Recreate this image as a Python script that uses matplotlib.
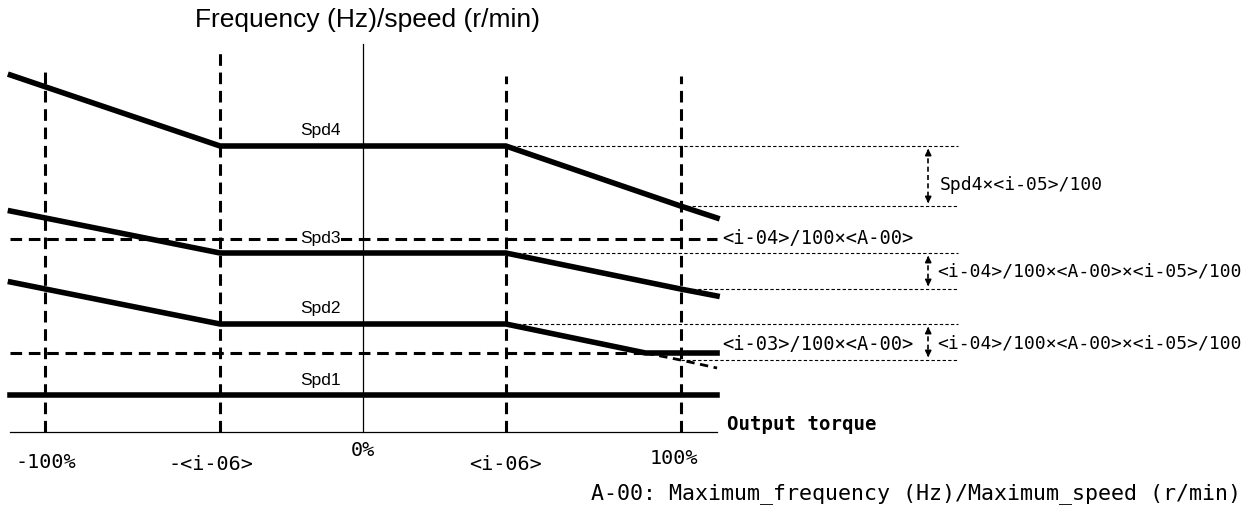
import matplotlib.pyplot as plt

# torque axis (%), speed axis in arbitrary units
torque_x = [-111, -45, 45, 100, 111.5]
spd4 = [357, 286, 286, 226, 214]
spd3 = [221, 179, 179, 143, 136]
spd2_x = [-111, -45, 45, 89, 111.5]
spd2 = [150, 108, 108, 79, 79]
spd2_ext_x = [89, 100, 111.5]
spd2_ext = [79, 72, 64]
spd1_x = [-111, 111.5]
spd1 = [37, 37]

i04_level = 193
i03_level = 79

guide_x = [-100, -45, 45, 100]
guide_top = [364, 380, 356, 356]
tick_labels = ["-100%", "-<i-06>", "0%", "<i-06>", "100%"]
tick_pos = [-100, -48, 0, 45, 98]
tick_y = [-31, -33, -18, -33, -26]

fig = plt.figure(figsize=(12.55, 5.13), dpi=100)
ax = fig.add_axes([0, 0, 1, 1])
ax.set_xlim(-114.3, 280.9)
ax.set_ylim(-81, 432)
ax.axis("off")

mono = "DejaVu Sans Mono"

# axes
ax.plot([-111, 111.5], [0, 0], color="black", lw=0.9)
ax.plot([0, 0], [0, 388], color="black", lw=0.9)

# vertical dashed guides
for gx, gt in zip(guide_x, guide_top):
    ax.plot([gx, gx], [0, gt], color="black", lw=2.2, dashes=(3.8, 2.2))

# horizontal dashed levels
for lvl in [i04_level, i03_level]:
    ax.plot([-111, 111.5], [lvl, lvl], color="black", lw=2.2, dashes=(3.8, 2.2))

# speed lines
lw = 4
ax.plot(torque_x, spd4, color="black", lw=lw, solid_joinstyle="miter")
ax.plot(torque_x, spd3, color="black", lw=lw, solid_joinstyle="miter")
ax.plot(spd2_x, spd2, color="black", lw=lw, solid_joinstyle="miter")
ax.plot(spd2_ext_x, spd2_ext, color="black", lw=2, dashes=(3, 2))
ax.plot(spd1_x, spd1, color="black", lw=lw)

# dotted reference lines on the right
x_end = 187.4
refs = [(45, spd4[2]), (100, spd4[3]), (45, spd3[2]), (100, spd3[3]),
        (45, spd2[2]), (100, spd2_ext[1])]
for rx, ry in refs:
    ax.plot([rx, x_end], [ry, ry], color="black", lw=0.8, dashes=(3, 2))

# double arrows
x_arr = 178
for top, bot in [(spd4[2], spd4[3]), (spd3[2], spd3[3]), (spd2[2], spd2_ext[1])]:
    ax.plot([x_arr, x_arr], [top - 4, bot + 4], color="black", lw=1.2, dashes=(3, 2))
    ax.annotate("", xy=(x_arr, top), xytext=(x_arr, top - 8),
                arrowprops=dict(arrowstyle="-|>", color="black", lw=1.2, mutation_scale=9))
    ax.annotate("", xy=(x_arr, bot), xytext=(x_arr, bot + 8),
                arrowprops=dict(arrowstyle="-|>", color="black", lw=1.2, mutation_scale=9))

# Spd labels
for name, yv in [("Spd4", spd4[2]), ("Spd3", spd3[2]), ("Spd2", spd2[2]), ("Spd1", spd1[0])]:
    ax.text(-13.5, yv + 15, name, fontsize=12.5, family="Liberation Sans", ha="center",
            va="center", bbox=dict(facecolor="white", edgecolor="none", pad=0.8), zorder=5)

# title
ax.text(1.5, 412, "Frequency (Hz)/speed (r/min)", fontsize=19, family="Liberation Sans",
        ha="center", va="center")

# tick labels
for lab, tx, ty in zip(tick_labels, tick_pos, tick_y):
    ax.text(tx, ty, lab, fontsize=14.5, family=mono, ha="center", va="center")

ax.text(114.5, 7, "Output torque", fontsize=13.7, family=mono, fontweight="bold",
        ha="left", va="center")

# right annotations
ax.text(113, 193, "<i-04>/100×<A-00>", fontsize=13.5, family=mono, ha="left", va="center")
ax.text(113, 88, "<i-03>/100×<A-00>", fontsize=13.5, family=mono, ha="left", va="center")
ax.text(181.7, 247, "Spd4×<i-05>/100", fontsize=13, family=mono, ha="left", va="center")
ax.text(180.7, 161, "<i-04>/100×<A-00>×<i-05>/100", fontsize=13, family=mono,
        ha="left", va="center")
ax.text(180.7, 88, "<i-04>/100×<A-00>×<i-05>/100", fontsize=13, family=mono,
        ha="left", va="center")

ax.text(276.4, -62, "A-00: Maximum_frequency (Hz)/Maximum_speed (r/min)", fontsize=15.6,
        family=mono, ha="right", va="center")

fig.savefig("out.png", dpi=100)
